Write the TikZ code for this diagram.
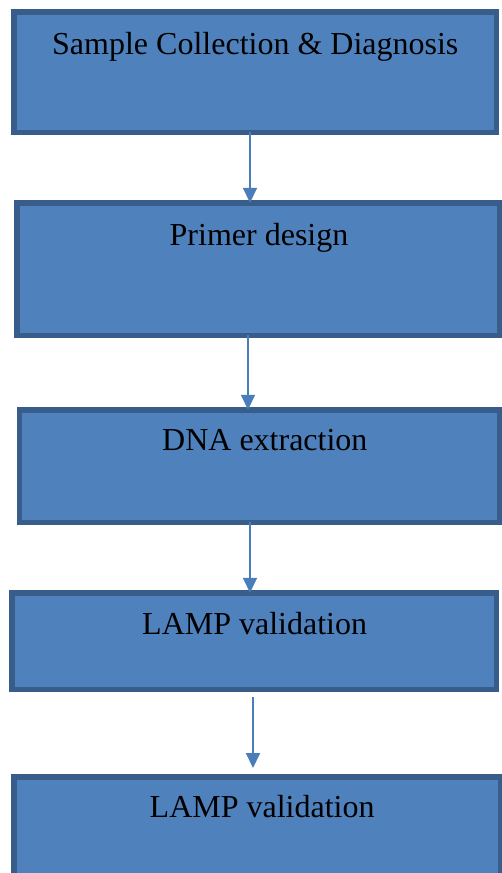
\documentclass[tikz,border=0pt]{standalone}
\usepackage{fontspec}
\setmainfont{Liberation Serif}
\usetikzlibrary{arrows.meta,calc}
\definecolor{boxfill}{HTML}{4F81BD}
\definecolor{boxedge}{HTML}{385D8A}
\definecolor{flowline}{HTML}{4A7EBB}
\tikzset{
  stepbox/.style={draw=boxedge, fill=boxfill, line width=5.5pt, inner sep=0pt, outer sep=0pt},
  steptext/.style={font=\fontsize{32}{36}\selectfont, inner sep=0pt, anchor=base west},
  flow/.style={draw=flowline, line width=2pt, -{Triangle[length=15pt,width=14pt]}}
}
\begin{document}
\begin{tikzpicture}[x=1pt,y=-1pt]
\useasboundingbox (0,0) rectangle (502,873);
% process boxes (border centre lines)
\node[stepbox, minimum width=482.5pt, minimum height=120.5pt] (b1) at (255,72) {};
\node[stepbox, minimum width=482.5pt, minimum height=132.5pt] (b2) at (258.25,269) {};
\node[stepbox, minimum width=480.5pt, minimum height=112.5pt] (b3) at (259.75,466) {};
\node[stepbox, minimum width=484.5pt, minimum height=96.5pt] (b4) at (254,641) {};
\node[stepbox, minimum width=486.5pt, minimum height=98.5pt] (b5) at (257,826) {};
% step labels
\node[steptext] (t1) at (52,54) {Sample Collection \& Diagnosis};
\node[steptext] (t2) at (169.5,245.7) {Primer design};
\node[steptext] (t3) at (162,450.7) {DNA extraction};
\node[steptext] (t4) at (142,634) {LAMP validation};
\node[steptext] (t5) at (149.5,817.7) {LAMP validation};
% connectors
\coordinate (a4s) at (253,697);
\coordinate (a4e) at (253,768);
\draw[flow] (b1.south -| 250,0) -- (b2.north -| 250,0);
\draw[flow] (b2.south -| 248,0) -- (b3.north -| 248,0);
\draw[flow] (b3.south -| 250,0) -- (b4.north -| 250,0);
\draw[flow] (a4s) -- (a4e);
\end{tikzpicture}
\end{document}
